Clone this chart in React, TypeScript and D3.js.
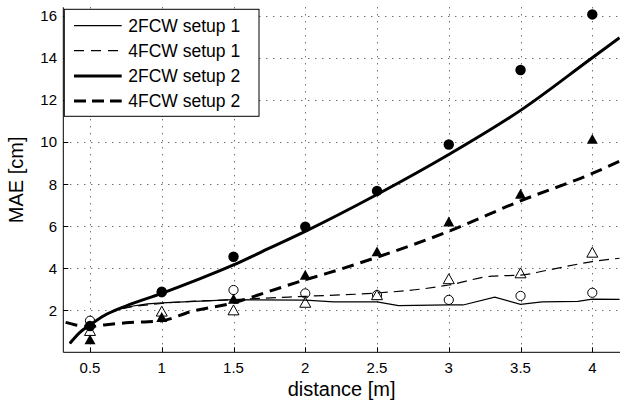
import React from "react";
import * as d3 from "d3";

const W = 620;
const H = 405;

// tick values
const xTicks = [0.5, 1, 1.5, 2, 2.5, 3, 3.5, 4];
const yTicks = [2, 4, 6, 8, 10, 12, 14, 16];

// fitted curves
const s1_2fcw_x = [0.36, 0.43, 0.5, 0.6, 0.7, 0.8, 0.9, 1.0, 1.5, 2.0, 2.2, 2.5, 2.65, 3.0, 3.1, 3.32, 3.5, 3.65, 3.9, 4.0, 4.19];
const s1_2fcw_y = [0.4, 0.95, 1.3, 1.75, 2.05, 2.2, 2.3, 2.35, 2.5, 2.48, 2.4, 2.4, 2.22, 2.25, 2.25, 2.62, 2.28, 2.4, 2.42, 2.53, 2.52];

const s1_4fcw_x = [0.36, 0.43, 0.5, 0.6, 0.7, 1.0, 1.5, 1.7, 2.0, 2.5, 2.8, 3.0, 3.3, 3.5, 3.7, 4.0, 4.19];
const s1_4fcw_y = [0.42, 0.95, 1.3, 1.75, 2.02, 2.32, 2.5, 2.57, 2.66, 2.82, 3.0, 3.2, 3.62, 3.67, 3.92, 4.31, 4.47];

const s2_2fcw_x = [0.36, 0.43, 0.5, 0.6, 0.75, 1.0, 1.25, 1.5, 1.75, 2.0, 2.5, 3.0, 3.5, 4.0, 4.19];
const s2_2fcw_y = [0.43, 0.95, 1.3, 1.75, 2.2, 2.8, 3.45, 4.15, 4.95, 5.75, 7.5, 9.4, 11.5, 14.0, 14.95];

const s2_4fcw_x = [0.33, 0.4, 0.5, 0.6, 0.75, 1.0, 1.2, 1.5, 1.75, 2.0, 2.15, 2.5, 3.0, 3.5, 4.0, 4.19];
const s2_4fcw_y = [1.42, 1.3, 1.22, 1.3, 1.4, 1.5, 1.93, 2.35, 2.9, 3.45, 3.75, 4.52, 5.75, 7.2, 8.5, 9.08];

// measured points
const pointX = [0.5, 1, 1.5, 2, 2.5, 3, 3.5, 4];
const s1_2fcw_pts = [1.5, 2.85, 2.96, 2.8, 2.72, 2.49, 2.68, 2.83];
const s1_4fcw_pts = [0.98, 1.9, 1.96, 2.32, 2.68, 3.44, 3.72, 4.7];
const s2_2fcw_pts = [1.25, 2.88, 4.54, 5.97, 7.67, 9.88, 13.42, 16.06];
const s2_4fcw_pts = [0.56, 1.62, 2.49, 3.63, 4.74, 6.16, 7.48, 10.09];

const legendLabels = ["2FCW setup 1", "4FCW setup 1", "2FCW setup 2", "4FCW setup 2"];

const FONT = "'Liberation Sans', Arial, Helvetica, sans-serif";

export default function App() {
  const left = 63.3;
  const right = 620;
  const top = 7.3;
  const bottom = 352.3;

  const x = d3.scaleLinear().domain([0.5, 4]).range([90, 592.3]);
  const y = d3.scaleLinear().domain([0, 16]).range([bottom, 15.7]);

  const line = d3
    .line<[number, number]>()
    .x((d) => x(d[0]))
    .y((d) => y(d[1]))
    .curve(d3.curveMonotoneX);
  const lineLin = d3
    .line<[number, number]>()
    .x((d) => x(d[0]))
    .y((d) => y(d[1]))
    .curve(d3.curveLinear);

  const zip = (a: number[], b: number[]) => a.map((v, i) => [v, b[i]] as [number, number]);

  const tri = (cx: number, cy: number, s: number) => {
    const h = s * 0.9;
    return `M${cx},${cy - h * 0.62}L${cx + s / 2},${cy + h * 0.38}L${cx - s / 2},${cy + h * 0.38}Z`;
  };

  const styles = [
    { w: 1.2, dash: undefined as string | undefined },
    { w: 1.2, dash: "10 6" },
    { w: 3, dash: undefined as string | undefined },
    { w: 3, dash: "12 7" },
  ];

  const legendRows = [25.7, 50.7, 76, 101];

  return (
    <svg
      width={W}
      height={H}
      style={{ position: "absolute", left: 0, top: 0, background: "#fff" }}
      fontFamily={FONT}
    >
      <rect x={0} y={0} width={W} height={H} fill="#fff" />
      {/* grid */}
      <g stroke="#333" strokeWidth={1} strokeDasharray="1 6">
        {yTicks.map((t) => (
          <line key={"gy" + t} x1={left} x2={right} y1={Math.round(y(t)) + 0.5} y2={Math.round(y(t)) + 0.5} />
        ))}
        {xTicks.map((t) => (
          <line key={"gx" + t} x1={Math.round(x(t)) + 0.5} x2={Math.round(x(t)) + 0.5} y1={top} y2={bottom} />
        ))}
      </g>
      {/* axes */}
      <g stroke="#000" strokeWidth={1}>
        <line x1={left} x2={left} y1={top} y2={bottom} />
        <line x1={left} x2={right} y1={bottom} y2={bottom} />
        {yTicks.map((t) => (
          <line key={"ty" + t} x1={left} x2={left + 5} y1={Math.round(y(t)) + 0.5} y2={Math.round(y(t)) + 0.5} />
        ))}
        {xTicks.map((t) => (
          <line key={"tx" + t} x1={Math.round(x(t)) + 0.5} x2={Math.round(x(t)) + 0.5} y1={bottom} y2={bottom - 5} />
        ))}
      </g>
      <g fontSize={15} fill="#000">
        {yTicks.map((t) => (
          <text key={"ly" + t} x={57} y={y(t)} textAnchor="end" dominantBaseline="central">
            {t}
          </text>
        ))}
        {xTicks.map((t) => (
          <text key={"lx" + t} x={x(t)} y={372.5} textAnchor="middle">
            {t}
          </text>
        ))}
      </g>
      <text x={(left + right) / 2} y={396} textAnchor="middle" fontSize={20}>
        distance [m]
      </text>
      <text
        transform={`translate(23.3,${(top + bottom) / 2}) rotate(-90)`}
        textAnchor="middle"
        fontSize={20}
      >
        MAE [cm]
      </text>

      <defs>
        <clipPath id="plotclip">
          <rect x={left} y={0} width={right - left} height={bottom} />
        </clipPath>
      </defs>
      <g clipPath="url(#plotclip)" fill="none" stroke="#000">
        {/* open markers */}
        {pointX.map((px, i) => (
          <circle key={"oc" + i} cx={x(px)} cy={y(s1_2fcw_pts[i])} r={4.6} fill="#fff" strokeWidth={1} />
        ))}
        {pointX.map((px, i) => (
          <path key={"ot" + i} d={tri(x(px), y(s1_4fcw_pts[i]), 11)} fill="#fff" strokeWidth={1} />
        ))}
        <path d={lineLin(zip(s1_2fcw_x, s1_2fcw_y)) || ""} strokeWidth={styles[0].w} />
        <path d={line(zip(s1_4fcw_x, s1_4fcw_y)) || ""} strokeWidth={styles[1].w} strokeDasharray={styles[1].dash} />
        <path d={line(zip(s2_2fcw_x, s2_2fcw_y)) || ""} strokeWidth={styles[2].w} />
        <path d={line(zip(s2_4fcw_x, s2_4fcw_y)) || ""} strokeWidth={styles[3].w} strokeDasharray={styles[3].dash} />
        {pointX.map((px, i) => (
          <circle key={"fc" + i} cx={x(px)} cy={y(s2_2fcw_pts[i])} r={5.2} fill="#000" stroke="none" />
        ))}
        {pointX.map((px, i) => (
          <path key={"ft" + i} d={tri(x(px), y(s2_4fcw_pts[i]), 11)} fill="#000" stroke="none" />
        ))}
      </g>

      {/* legend */}
      <rect x={64.3} y={9.3} width={194.7} height={107} fill="#fff" stroke="#000" strokeWidth={1} />
      {legendLabels.map((lab, i) => (
        <g key={"lg" + i}>
          <line
            x1={74}
            x2={121.7}
            y1={legendRows[i]}
            y2={legendRows[i]}
            stroke="#000"
            strokeWidth={styles[i].w}
            strokeDasharray={i === 1 ? "10 7" : i === 3 ? "12 6" : undefined}
          />
          <text x={128.3} y={legendRows[i]} dominantBaseline="central" fontSize={17.5} fill="#000">
            {lab}
          </text>
        </g>
      ))}
    </svg>
  );
}
